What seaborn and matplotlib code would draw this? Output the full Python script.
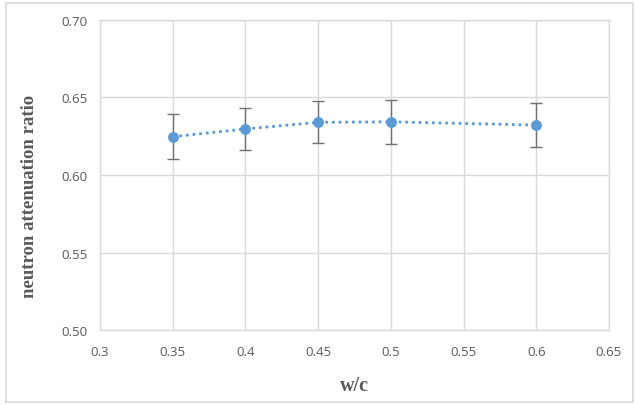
import numpy as np
import pandas as pd
import matplotlib
matplotlib.use("Agg")
import matplotlib.pyplot as plt
import seaborn as sns
from matplotlib.patches import Rectangle

# data
wc = [0.35, 0.40, 0.45, 0.50, 0.60]
ratio = [0.6247, 0.6297, 0.6340, 0.6343, 0.6322]
err = [0.0145, 0.0133, 0.0135, 0.0141, 0.0140]

x_ticks = [0.3, 0.35, 0.4, 0.45, 0.5, 0.55, 0.6, 0.65]
x_labels = ["0.3", "0.35", "0.4", "0.45", "0.5", "0.55", "0.6", "0.65"]
y_ticks = [0.50, 0.55, 0.60, 0.65, 0.70]
y_labels = ["0.50", "0.55", "0.60", "0.65", "0.70"]

BLUE = "#5B9BD5"
GRID = "#D9D9D9"
TEXT = "#595959"


def main():
    sns.set_style("whitegrid")
    plt.rcParams["font.family"] = ["Open Sans", "DejaVu Sans"]

    df = pd.DataFrame({"wc": wc, "ratio": ratio})

    fig = plt.figure(figsize=(6.38, 4.06), dpi=100)
    ax = fig.add_axes([0.1567, 0.1847, 0.7978, 0.7636])

    ax.errorbar(wc, ratio, yerr=err, fmt="none", ecolor="#707070",
                elinewidth=1.0, capsize=4, capthick=1.0, zorder=2)
    sns.lineplot(data=df, x="wc", y="ratio", ax=ax, color=BLUE,
                 linestyle=(0, (1, 1.4)), linewidth=2.0, zorder=3)
    sns.scatterplot(data=df, x="wc", y="ratio", ax=ax, color=BLUE,
                    s=62, edgecolor=BLUE, linewidth=0, zorder=4)

    ax.set_xlim(0.3, 0.65)
    ax.set_ylim(0.50, 0.70)
    ax.set_xticks(x_ticks)
    ax.set_xticklabels(x_labels)
    ax.set_yticks(y_ticks)
    ax.set_yticklabels(y_labels)
    ax.tick_params(axis="both", length=0, labelsize=9.5, colors=TEXT)
    ax.tick_params(axis="x", pad=11)
    ax.tick_params(axis="y", pad=9)

    ax.grid(True, color=GRID, linewidth=1.0)
    for sp in ax.spines.values():
        sp.set_color(GRID)
        sp.set_linewidth(1.0)

    ax.set_xlabel("w/c", family="Liberation Serif", fontweight="bold",
                  fontsize=14.5, color=TEXT, labelpad=12)
    ax.set_ylabel("neutron attenuation ratio", family="Liberation Serif",
                  fontweight="bold", fontsize=13.5, color=TEXT)
    # label sits a bit below the middle of the axis in the reference
    ax.yaxis.set_label_coords(-0.122, 0.435)

    # outer chart border
    fig.patches.append(Rectangle((0.009, 0.007), 0.983, 0.983,
                                 transform=fig.transFigure, fill=False,
                                 edgecolor=GRID, linewidth=1.2))

    fig.savefig("out.png", dpi=100)
    plt.close(fig)


if __name__ == "__main__":
    main()
